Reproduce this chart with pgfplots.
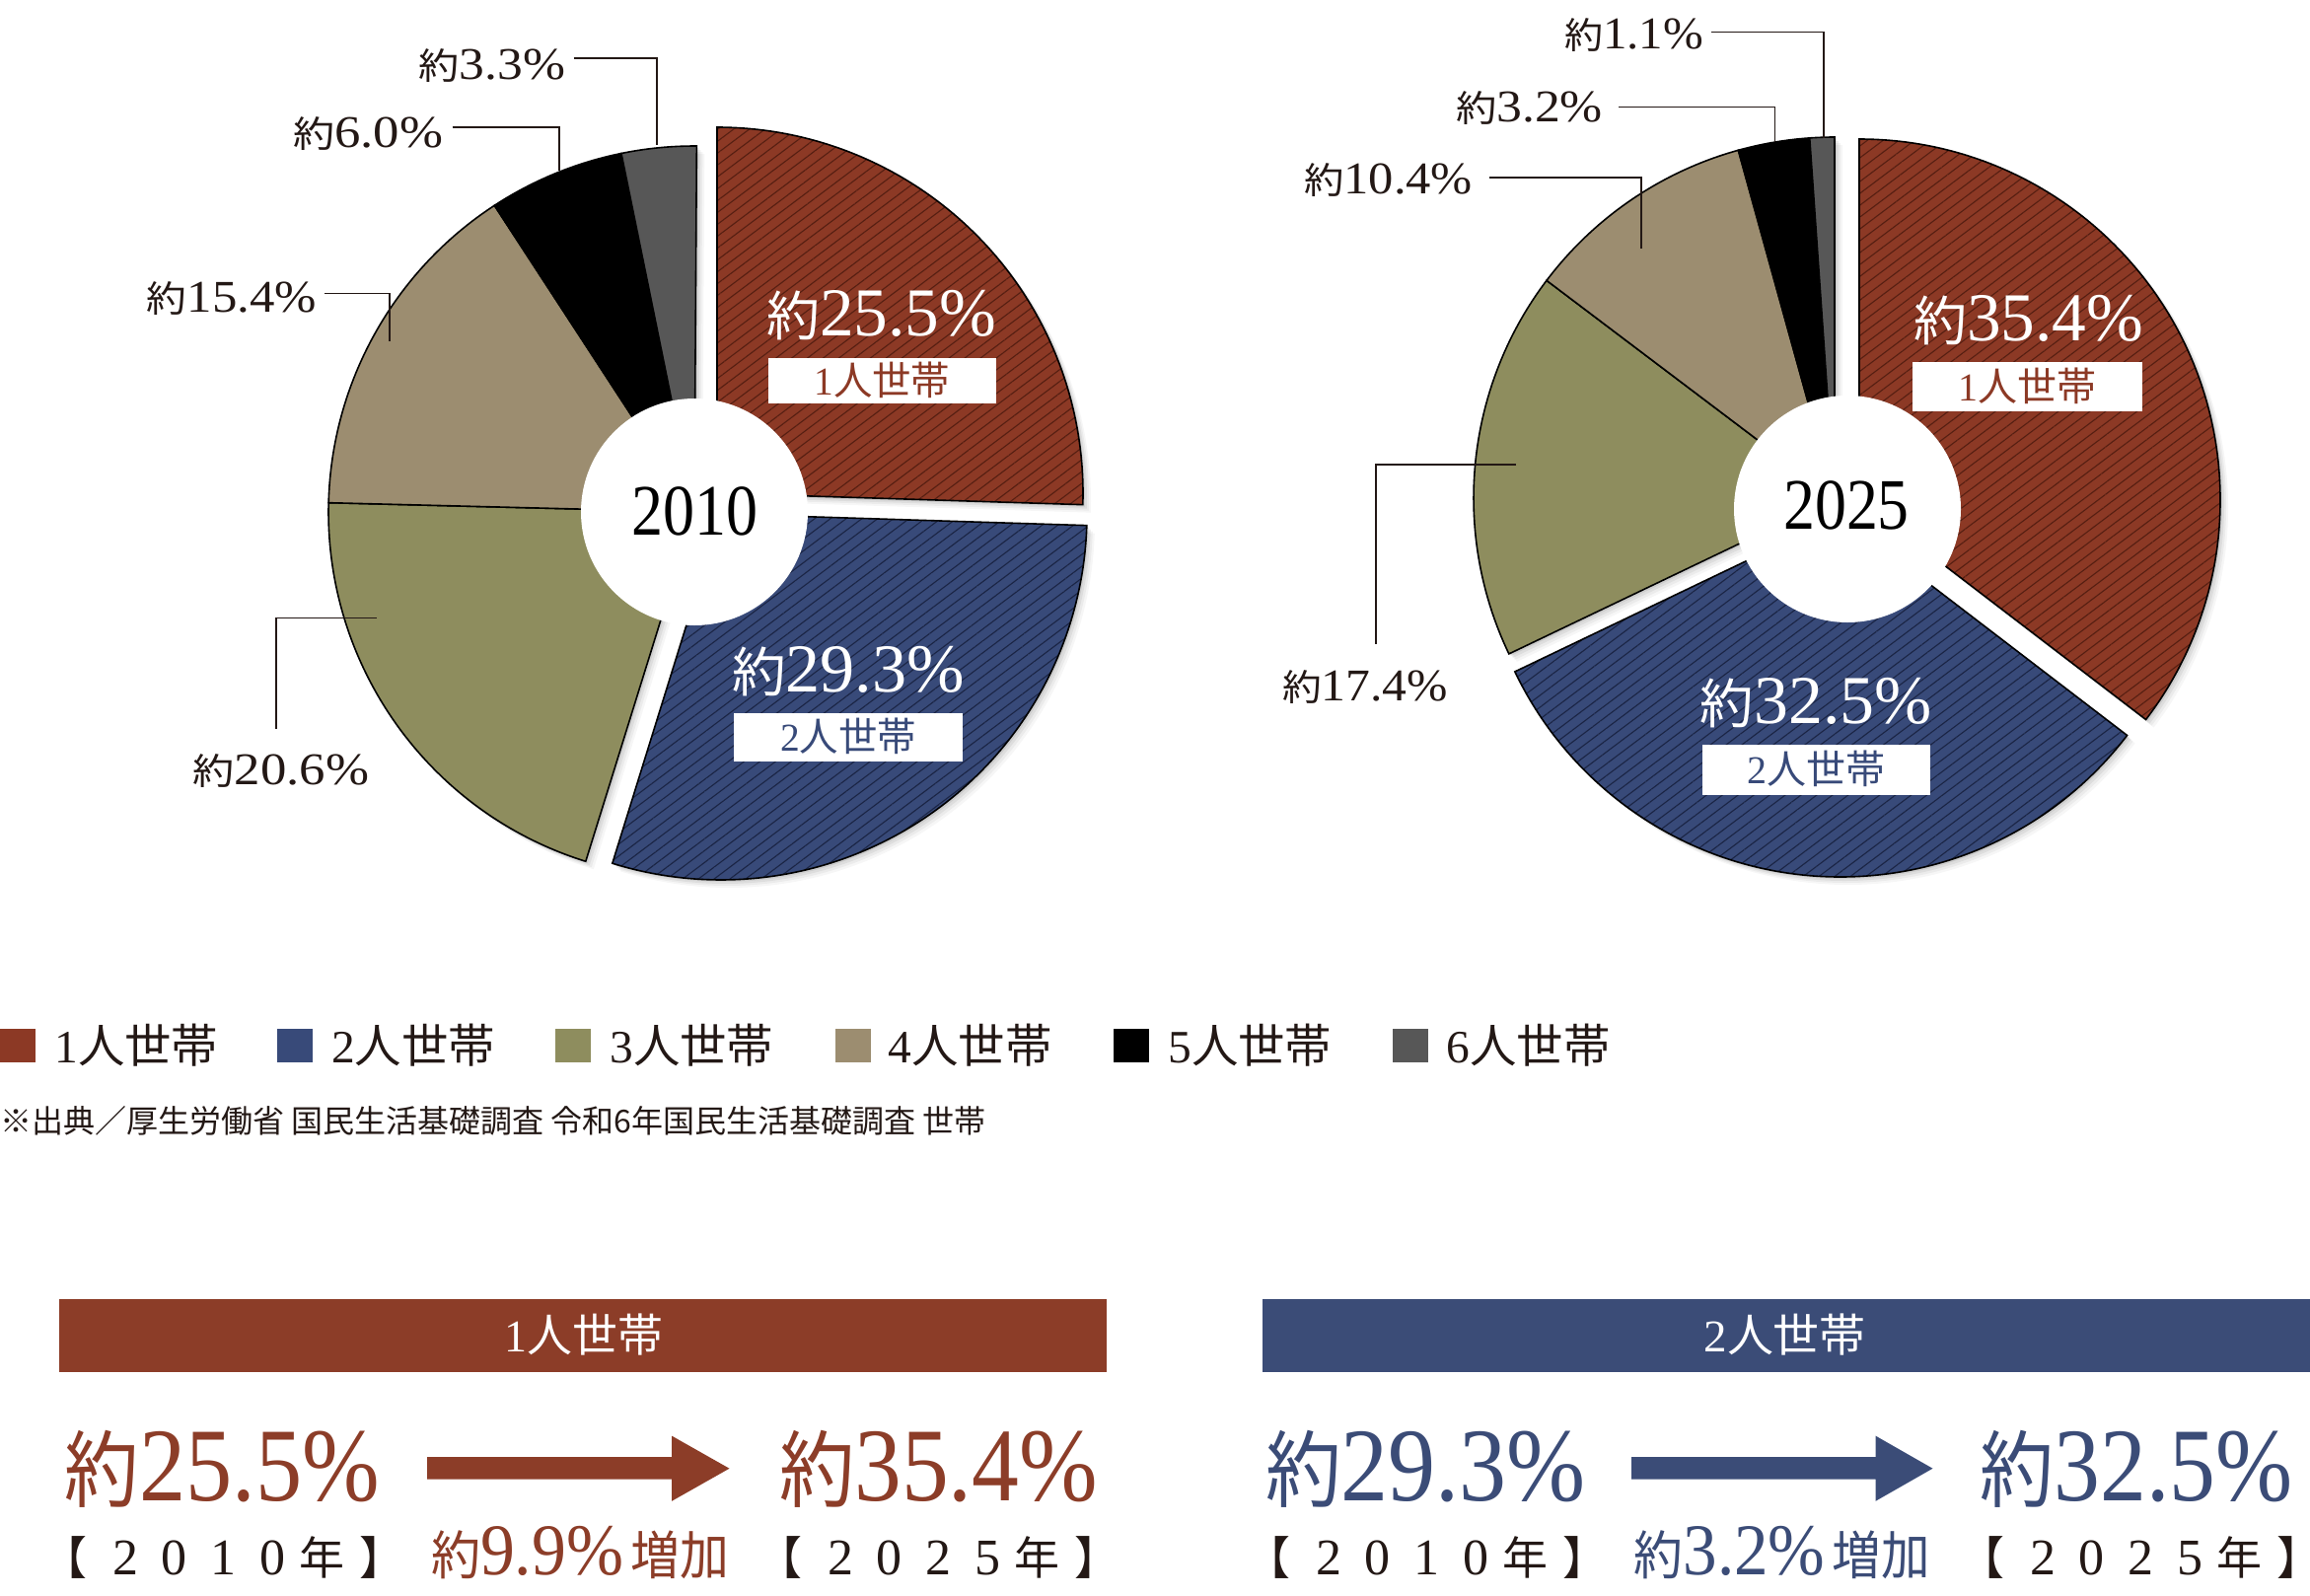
\documentclass[border=0pt]{standalone}
\usepackage{pgfplots}
\pgfplotsset{compat=1.18}
\usepackage{pgfplotstable}
\usetikzlibrary{patterns.meta}
\usepackage{graphicx}
\usepackage{fontspec}
\setmainfont{Liberation Serif}
\newfontfamily\num{Liberation Serif}
\newfontfamily\jp{Noto Sans CJK JP}

\definecolor{cA}{HTML}{8C3925}
\definecolor{cAd}{HTML}{561F12}
\definecolor{cB}{HTML}{384A79}
\definecolor{cBd}{HTML}{1B2545}
\definecolor{cC}{HTML}{8E8D5E}
\definecolor{cD}{HTML}{9C8D70}
\definecolor{cE}{HTML}{000000}
\definecolor{cF}{HTML}{575757}
\definecolor{tA}{HTML}{8C3D28}
\definecolor{tB}{HTML}{3B4C77}
\definecolor{ink}{HTML}{231815}

\tikzset{
  sl/.style={draw=black,line width=0.4pt,line join=miter},
  slice1/.style={sl,preaction={fill=cA},pattern={Lines[angle=37,distance=2.4pt,line width=0.28pt]},pattern color=cAd},
  slice2/.style={sl,preaction={fill=cB},pattern={Lines[angle=37,distance=2.4pt,line width=0.28pt]},pattern color=cBd},
  slice3/.style={sl,fill=cC},
  slice4/.style={sl,fill=cD},
  slice5/.style={sl,fill=cE},
  slice6/.style={sl,fill=cF},
}

% font size in reference pixels (1 px = 0.25pt)
\newcommand\setpx[1]{\pgfmathsetlengthmacro\tmpfs{(#1)*0.25pt}\fontsize{\tmpfs}{\tmpfs}\selectfont}
% "約" + number
\newcommand\yk[3][0.8]{{\jp\setpx{#2*#1}約}{\num\setpx{#2}#3}}
% fit content horizontally to a width in px
\newsavebox\fitbox
\newlength\fitlen
\newcommand\hfit[2]{\sbox\fitbox{#2}\setlength\fitlen{\wd\fitbox}\pgfmathsetmacro\fitsx{(#1)*0.25pt/\fitlen}\scalebox{\fitsx}[1]{\usebox\fitbox}}
\newcommand\lab[5]{\node[anchor=base west,inner sep=0pt,outer sep=0pt,text=#5] at (axis cs:#1,#2) {\hfit{#3}{#4}};}
\newcommand\clab[5]{\node[anchor=base,inner sep=0pt,outer sep=0pt,text=#5] at (axis cs:#1,#2) {\hfit{#3}{#4}};}
\newcommand\hh[2]{{\num\setpx{#2}#1}{\jp\setpx{#2}人世帯}}
% bracket year row
\newcommand\bd[1]{\makebox[12.45pt][c]{\num\setpx{52}#1}}
\newcommand\brow[4]{{\jp\setpx{46}\makebox[12.45pt][c]{\hspace*{-0.5em}【}}\bd{#1}\bd{#2}\bd{#3}\bd{#4}{\jp\setpx{46}\makebox[12.45pt][c]{年}}{\jp\setpx{46}\makebox[12.45pt][c]{】\hspace*{-0.5em}}}}

% shares in percent; ox/oy = explode offset of the slice (px)
\pgfplotstableread{
hh share ox oy
1 25.5 23 -19
2 29.3 27 2
3 20.6 0 0
4 15.4 0 0
5 6.0 0 0
6 3.3 0 0
}\pieA
\pgfplotstableread{
hh share ox oy
1 35.4 25 2
2 32.5 6 18
3 17.4 0 0
4 10.4 0 0
5 3.2 0 0
6 1.1 0 0
}\pieB

\newcommand\drawpie[4]{%
  \pgfplotstablegetrowsof{#1}\pgfmathtruncatemacro\nlast{\pgfplotsretval-1}%
  \foreach \pass in {0,1}{%
    \xdef\cum{0}%
    \foreach \i in {0,...,\nlast}{%
      \pgfplotstablegetelem{\i}{share}\of#1\let\val\pgfplotsretval
      \pgfplotstablegetelem{\i}{ox}\of#1\let\ox\pgfplotsretval
      \pgfplotstablegetelem{\i}{oy}\of#1\let\oy\pgfplotsretval
      \pgfmathsetmacro\aone{90-3.6*\cum}%
      \pgfmathsetmacro\atwo{\aone-3.6*\val}%
      \pgfmathsetmacro\vx{#2+\ox}%
      \pgfmathsetmacro\vy{#3+\oy}%
      \pgfmathsetmacro\sx{\vx+#4*cos(\aone)}%
      \pgfmathsetmacro\sy{\vy-#4*sin(\aone)}%
      \pgfmathtruncatemacro\k{\i+1}%
      \ifnum\pass=0
        \foreach \d/\op in {8/0.035,6/0.045,4/0.06,2/0.08}{%
          \pgfmathsetmacro\vxs{\vx+\d}\pgfmathsetmacro\vys{\vy+\d}%
          \pgfmathsetmacro\sxs{\sx+\d}\pgfmathsetmacro\sys{\sy+\d}%
          \fill[black,opacity=\op] (axis cs:\vxs,\vys) -- (axis cs:\sxs,\sys) arc[start angle=\aone,end angle=\atwo,radius=#4*0.25pt] -- cycle;}%
      \else
        \path[slice\k] (axis cs:\vx,\vy) -- (axis cs:\sx,\sy) arc[start angle=\aone,end angle=\atwo,radius=#4*0.25pt] -- cycle;
      \fi
      \pgfmathsetmacro\newcum{\cum+\val}\xdef\cum{\newcum}%
    }%
  }%
}

\begin{document}
\begin{tikzpicture}
\begin{axis}[at={(0,0)},anchor=south west,
  width=585.5pt,height=404.25pt,scale only axis,
  xmin=0,xmax=2342,ymin=0,ymax=1617,y dir=reverse,
  hide axis,clip=false,no markers]

% ---------- pies ----------
\pgfplotsextra{\drawpie{\pieA}{704}{519}{371}}
\pgfplotsextra{\drawpie{\pieB}{1860}{505}{366}}
\fill[white] (axis cs:704,519) circle[radius=115*0.25pt];
\fill[white] (axis cs:1873,516) circle[radius=115*0.25pt];

% leader lines
\addplot[ink,line width=0.4pt] coordinates {(581.6,58.7) (665.8,58.7) (665.8,146.7)};
\addplot[ink,line width=0.4pt] coordinates {(458.5,129) (567,129) (567,173)};
\addplot[ink,line width=0.4pt] coordinates {(329,297.5) (394.7,297.5) (394.7,346)};
\addplot[ink,line width=0.4pt] coordinates {(382,626.6) (280,626.6) (280,739)};
\addplot[ink,line width=0.4pt] coordinates {(1735,32.3) (1849,32.3) (1849,139.6)};
\addplot[ink,line width=0.4pt] coordinates {(1641,108.5) (1799.5,108.5) (1799.5,143.7)};
\addplot[ink,line width=0.4pt] coordinates {(1510,180) (1664,180) (1664,252)};
\addplot[ink,line width=0.4pt] coordinates {(1537,471) (1395,471) (1395,653)};

% outside labels
\lab{424.7}{80.4}{148.6}{\yk{46}{3.3\%}}{ink}
\lab{297}{149.6}{152}{\yk{46}{6.0\%}}{ink}
\lab{149}{316.8}{172}{\yk{46}{15.4\%}}{ink}
\lab{195.7}{795}{178.6}{\yk{46}{20.6\%}}{ink}
\lab{1586}{49.9}{141}{\yk{46}{1.1\%}}{ink}
\lab{1476}{123.2}{149}{\yk{46}{3.2\%}}{ink}
\lab{1322}{196.5}{171}{\yk{46}{10.4\%}}{ink}
\lab{1300}{710}{168}{\yk{46}{17.4\%}}{ink}

% inner labels
\lab{777}{340.3}{233}{\yk[0.78]{69.5}{25.5\%}}{white}
\lab{742}{701}{236}{\yk[0.78]{69.5}{29.3\%}}{white}
\lab{1940}{345}{233}{\yk[0.78]{69.5}{35.4\%}}{white}
\lab{1723.6}{733.4}{235}{\yk[0.78]{69.5}{32.5\%}}{white}
\fill[white] (axis cs:778.6,362.6) rectangle (axis cs:1010,409);
\fill[white] (axis cs:744,723) rectangle (axis cs:976,771.5);
\fill[white] (axis cs:1939,366.7) rectangle (axis cs:2172,416.6);
\fill[white] (axis cs:1725.7,755) rectangle (axis cs:1957,805.5);
\clab{894.3}{400}{138}{\hh{1}{40}}{cA}
\clab{860}{761}{138}{\hh{2}{40}}{cB}
\clab{2055.5}{406}{140}{\hh{1}{40}}{cA}
\clab{1841.3}{794.5}{140}{\hh{2}{40}}{cB}
\clab{704}{542.7}{128}{\num\setpx{73.5}2010}{black}
\clab{1872}{536.8}{127.6}{\num\setpx{73.5}2025}{black}

% ---------- legend ----------
\addplot[fill=cA,draw=none] coordinates {(0,1043) (36,1043) (36,1077) (0,1077)} -- cycle;
\addplot[fill=cB,draw=none] coordinates {(281,1043) (317,1043) (317,1077) (281,1077)} -- cycle;
\addplot[fill=cC,draw=none] coordinates {(563,1043) (599,1043) (599,1077) (563,1077)} -- cycle;
\addplot[fill=cD,draw=none] coordinates {(847,1043) (883,1043) (883,1077) (847,1077)} -- cycle;
\addplot[fill=cE,draw=none] coordinates {(1129,1043) (1165,1043) (1165,1077) (1129,1077)} -- cycle;
\addplot[fill=cF,draw=none] coordinates {(1411.5,1043) (1447.5,1043) (1447.5,1077) (1411.5,1077)} -- cycle;
\lab{55.3}{1077}{166}{\hh{1}{47}}{ink}
\lab{336}{1077}{166}{\hh{2}{47}}{ink}
\lab{618.4}{1077}{166}{\hh{3}{47}}{ink}
\lab{900.6}{1077}{166}{\hh{4}{47}}{ink}
\lab{1184.4}{1077}{166}{\hh{5}{47}}{ink}
\lab{1466.7}{1077}{166}{\hh{6}{47}}{ink}
\lab{0}{1148}{1000}{\jp\setpx{32}※出典／厚生労働省 国民生活基礎調査 令和6年国民生活基礎調査 世帯}{ink}

% ---------- bottom panels ----------
\addplot[fill=tA,draw=none] coordinates {(59.7,1317) (1121.7,1317) (1121.7,1390.5) (59.7,1390.5)} -- cycle;
\addplot[fill=tB,draw=none] coordinates {(1280,1317) (2342,1317) (2342,1390.5) (1280,1390.5)} -- cycle;
\clab{592}{1370}{160.6}{\hh{1}{46}}{white}
\clab{1809.7}{1370}{164.4}{\hh{2}{46}}{white}

\addplot[fill=tA,draw=none] coordinates {(433,1477) (681,1477) (681,1455.6) (739.5,1488.7) (681,1521.8) (681,1499.6) (433,1499.6)} -- cycle;
\addplot[fill=tB,draw=none] coordinates {(1654,1477) (1901.5,1477) (1901.5,1455.6) (1959.5,1488.7) (1901.5,1521.8) (1901.5,1499.6) (1654,1499.6)} -- cycle;

\lab{65.7}{1521}{319}{\yk{106}{25.5\%}}{tA}
\lab{790}{1521}{323}{\yk{106}{35.4\%}}{tA}
\lab{1283}{1521}{325}{\yk{106}{29.3\%}}{tB}
\lab{2007.6}{1521}{317}{\yk{106}{32.5\%}}{tB}
\lab{437}{1596}{302.5}{\yk[0.72]{74}{9.9\%\hspace{2pt}{\jp\setpx{53}増加}}}{tA}
\lab{1656.6}{1596}{300.4}{\yk[0.72]{74}{3.2\%\hspace{2pt}{\jp\setpx{53}増加}}}{tB}

\node[anchor=base west,inner sep=0pt,text=ink] at (axis cs:51.6,1596) {\brow{2}{0}{1}{0}};
\node[anchor=base west,inner sep=0pt,text=ink] at (axis cs:776.6,1596) {\brow{2}{0}{2}{5}};
\node[anchor=base west,inner sep=0pt,text=ink] at (axis cs:1271.6,1596) {\brow{2}{0}{1}{0}};
\node[anchor=base west,inner sep=0pt,text=ink] at (axis cs:1995.6,1596) {\brow{2}{0}{2}{5}};
\end{axis}
\pgfresetboundingbox
\path[use as bounding box] (0,0) rectangle (585.5pt,404.25pt);
\end{tikzpicture}
\end{document}
